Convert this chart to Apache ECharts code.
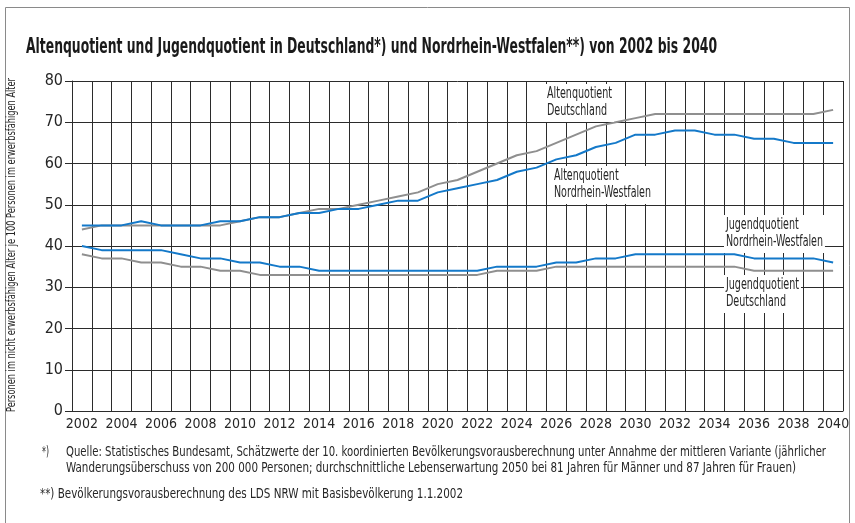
<!DOCTYPE html>
<html>
<head>
<meta charset="utf-8">
<script src="https://cdn.jsdelivr.net/npm/echarts@6/dist/echarts.min.js"></script>
<style>
  html, body { margin: 0; padding: 0; background: #fff; }
  #chart { width: 855px; height: 523px; }
</style>
</head>
<body>
<div id="chart"></div>
<script>
var years = ['2002', '2003', '2004', '2005', '2006', '2007', '2008', '2009', '2010', '2011',
  '2012', '2013', '2014', '2015', '2016', '2017', '2018', '2019', '2020', '2021',
  '2022', '2023', '2024', '2025', '2026', '2027', '2028', '2029', '2030', '2031',
  '2032', '2033', '2034', '2035', '2036', '2037', '2038', '2039', '2040']

// Altenquotient
var altenDeutschland = [44, 45, 45, 45, 45, 45, 45, 45, 46, 47, 47, 48, 49, 49, 50, 51, 52, 53, 55, 56,
  58, 60, 62, 63, 65, 67, 69, 70, 71, 72, 72, 72, 72, 72, 72, 72, 72, 72, 73]
var altenNRW = [45, 45, 45, 46, 45, 45, 45, 46, 46, 47, 47, 48, 48, 49, 49, 50, 51, 51, 53, 54,
  55, 56, 58, 59, 61, 62, 64, 65, 67, 67, 68, 68, 67, 67, 66, 66, 65, 65, 65]

// Jugendquotient
var jugendDeutschland = [38, 37, 37, 36, 36, 35, 35, 34, 34, 33, 33, 33, 33, 33, 33, 33, 33, 33, 33, 33,
  33, 34, 34, 34, 35, 35, 35, 35, 35, 35, 35, 35, 35, 35, 34, 34, 34, 34, 34]
var jugendNRW = [40, 39, 39, 39, 39, 38, 37, 37, 36, 36, 35, 35, 34, 34, 34, 34, 34, 34, 34, 34,
  34, 35, 35, 35, 36, 36, 37, 37, 38, 38, 38, 38, 38, 38, 37, 37, 37, 37, 36]

var yTicks = [0, 10, 20, 30, 40, 50, 60, 70, 80]

var titleText = 'Altenquotient und Jugendquotient in Deutschland*) und Nordrhein-Westfalen**) von 2002 bis 2040'
var yName = 'Personen im nicht erwerbsfähigen Alter je 100 Personen im erwerbsfähigen Alter'
var note1a = 'Quelle: Statistisches Bundesamt, Schätzwerte der 10. koordinierten Bevölkerungsvorausberechnung unter Annahme der mittleren Variante (jährlicher'
var note1b = 'Wanderungsüberschuss von 200 000 Personen; durchschnittliche Lebenserwartung 2050 bei 81 Jahren für Männer und 87 Jahren für Frauen)'
var note2 = '**) Bevölkerungsvorausberechnung des LDS NRW mit Basisbevölkerung 1.1.2002'

var FONT = '"Liberation Sans Narrow", "DejaVu Sans Condensed", "Liberation Sans", sans-serif'
var BLUE = '#1479c9'
var GREY = '#8f8f8f'
var GRID = '#2b2b2b'
var INK = '#262626'

// squeeze text horizontally so it fills the given width (condensed look)
var ctx = document.createElement('canvas').getContext('2d')
function fit(text, size, weight, width) {
  ctx.font = (weight || 'normal') + ' ' + size + 'px ' + FONT
  var w = 0
  text.split('\n').forEach(function (t) { w = Math.max(w, ctx.measureText(t).width) })
  return width / w
}

function label(text, x, y, size, width, opts) {
  opts = opts || {}
  return {
    type: 'text',
    x: x,
    y: y,
    rotation: opts.rotation || 0,
    scaleX: fit(text, size, opts.weight, width),
    z: 100,
    style: {
      text: text,
      fontFamily: FONT,
      fontSize: size,
      fontWeight: opts.weight || 'normal',
      fill: opts.color || INK,
      align: opts.align || 'left',
      verticalAlign: opts.valign || 'top',
      lineHeight: opts.lineHeight || size,
      backgroundColor: opts.bg,
      padding: opts.padding
    }
  }
}

var chart = echarts.init(document.getElementById('chart'))

chart.setOption({
  animation: false,
  backgroundColor: '#fff',
  grid: {
    left: 72,
    right: 12,
    top: 81,
    bottom: 112
  },
  xAxis: {
    type: 'category',
    data: years,
    boundaryGap: true,
    axisLine: { show: true, lineStyle: { color: GRID, width: 1 } },
    axisTick: { show: false },
    axisLabel: {
      interval: 1,
      margin: 6,
      fontFamily: FONT,
      fontSize: 14,
      color: INK
    },
    splitLine: {
      show: true,
      interval: 0,
      lineStyle: { color: GRID, width: 1 }
    }
  },
  yAxis: {
    type: 'value',
    min: yTicks[0],
    max: yTicks[yTicks.length - 1],
    interval: 10,
    axisLine: { show: true, lineStyle: { color: GRID, width: 1 } },
    axisTick: { show: true, length: 7, lineStyle: { color: GRID } },
    axisLabel: {
      margin: 9,
      fontFamily: FONT,
      fontSize: 16,
      color: INK,
      padding: [0, 0, 6, 0]
    },
    splitLine: { show: true, lineStyle: { color: GRID, width: 1 } }
  },
  series: [
    {
      name: 'Altenquotient Deutschland',
      type: 'line',
      data: altenDeutschland,
      symbol: 'none',
      lineStyle: { color: GREY, width: 2 },
      z: 2
    },
    {
      name: 'Jugendquotient Deutschland',
      type: 'line',
      data: jugendDeutschland,
      symbol: 'none',
      lineStyle: { color: GREY, width: 2 },
      z: 2
    },
    {
      name: 'Altenquotient Nordrhein-Westfalen',
      type: 'line',
      data: altenNRW,
      symbol: 'none',
      lineStyle: { color: BLUE, width: 2 },
      z: 3
    },
    {
      name: 'Jugendquotient Nordrhein-Westfalen',
      type: 'line',
      data: jugendNRW,
      symbol: 'none',
      lineStyle: { color: BLUE, width: 2 },
      z: 3
    }
  ],
  graphic: [
    // frame
    {
      type: 'rect',
      shape: { x: 5.5, y: 7.5, width: 844, height: 530 },
      style: { fill: 'none', stroke: '#8a8a8a', lineWidth: 1 },
      z: 0
    },
    label(titleText, 26, 36, 22, 691, { weight: 'bold', color: '#1a1a1a' }),
    label(yName, 12, 245, 12, 334, { rotation: Math.PI / 2, align: 'center', valign: 'middle' }),
    label('Altenquotient\nDeutschland', 545, 84, 16, 65,
      { lineHeight: 16.5, bg: '#fff', padding: [2, 3, 3, 3] }),
    label('Altenquotient\nNordrhein-Westfalen', 552, 166, 16, 97,
      { lineHeight: 16.5, bg: '#fff', padding: [2, 3, 3, 3] }),
    label('Jugendquotient\nNordrhein-Westfalen', 724, 215, 16, 97,
      { lineHeight: 16.5, bg: '#fff', padding: [2, 3, 3, 3] }),
    label('Jugendquotient\nDeutschland', 724, 275, 16, 73,
      { lineHeight: 16.5, bg: '#fff', padding: [2, 3, 3, 3] }),
    label('*)', 42, 445, 14, 7),
    label(note1a, 66, 445, 14, 760),
    label(note1b, 66, 461, 14, 730),
    label(note2, 40, 487, 14, 423)
  ]
})
</script>
</body>
</html>
